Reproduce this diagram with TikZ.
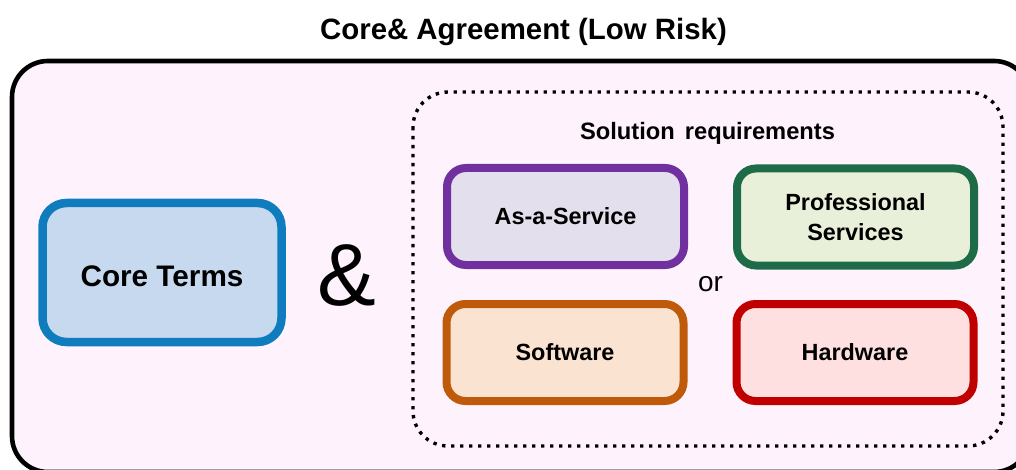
\documentclass[tikz,border=0pt]{standalone}
\usepackage{fontspec}
\setmainfont{Liberation Sans}
\definecolor{outerfill}{HTML}{FEF3FD}
\definecolor{coreline}{HTML}{0F7DBD}
\definecolor{corefill}{HTML}{C6D9EF}
\definecolor{aasline}{HTML}{7030A0}
\definecolor{aasfill}{HTML}{E4DFEC}
\definecolor{proline}{HTML}{1E6B48}
\definecolor{profill}{HTML}{E8F0DA}
\definecolor{swline}{HTML}{C05A0B}
\definecolor{swfill}{HTML}{FBE3D1}
\definecolor{hwline}{HTML}{C00000}
\definecolor{hwfill}{HTML}{FFE0E0}
\tikzset{
  reqbox/.style={draw, line width=8pt, rounded corners=19pt, minimum width=237pt,
    minimum height=97pt, inner sep=0pt, align=center,
    font=\bfseries\fontsize{23.4pt}{30pt}\selectfont},
  titletext/.style={font=\bfseries\fontsize{29.4pt}{35pt}\selectfont, inner sep=0pt},
}
\begin{document}
\begin{tikzpicture}[x=1pt,y=-1pt]
\useasboundingbox (0,0) rectangle (1016,470);
\clip (0,0) rectangle (1016,470);
\fill[white] (0,0) rectangle (1016,470);
% title
\node[titletext, anchor=base] (title) at (523.5,40) {Core\& Agreement (Low Risk)};
% outer box
\draw[line width=4.6pt, fill=outerfill, rounded corners=36pt] (12,61) rectangle (1030,472);
% core terms
\node[draw=coreline, fill=corefill, line width=8.5pt, rounded corners=24pt,
  minimum width=239pt, minimum height=139pt, inner sep=0pt,
  text height=27pt, text depth=0pt,
  font=\bfseries\fontsize{29.7pt}{35pt}\selectfont] (core) at (162,272.5) {Core Terms};
% ampersand
\node[font=\fontsize{88pt}{96pt}\selectfont, inner sep=0pt] (amp) at (346.5,275) {\&};
% dotted container
\draw[line width=3.4pt, dash pattern=on 3.4pt off 5.6pt, rounded corners=35pt] (413,92) rectangle (1003,446);
\node[anchor=base, inner sep=0pt, font=\bfseries\fontsize{23.7pt}{28pt}\selectfont] (sol) at (707.5,140) {Solution\hspace{3.5pt} requirements};
% requirement boxes
\node[reqbox, draw=aasline, fill=aasfill] (aas) at (565.5,216.5) {As-a-Service};
\node[reqbox, draw=proline, fill=profill] (pro) at (855.5,217) {Professional\\Services};
\node[reqbox, draw=swline, fill=swfill] (sw) at (565,352.5) {Software};
\node[reqbox, draw=hwline, fill=hwfill] (hw) at (855,352.5) {Hardware};
% or
\node[font=\fontsize{28pt}{32pt}\selectfont, inner sep=0pt] (or) at (710.5,284) {or};
\end{tikzpicture}
\end{document}
